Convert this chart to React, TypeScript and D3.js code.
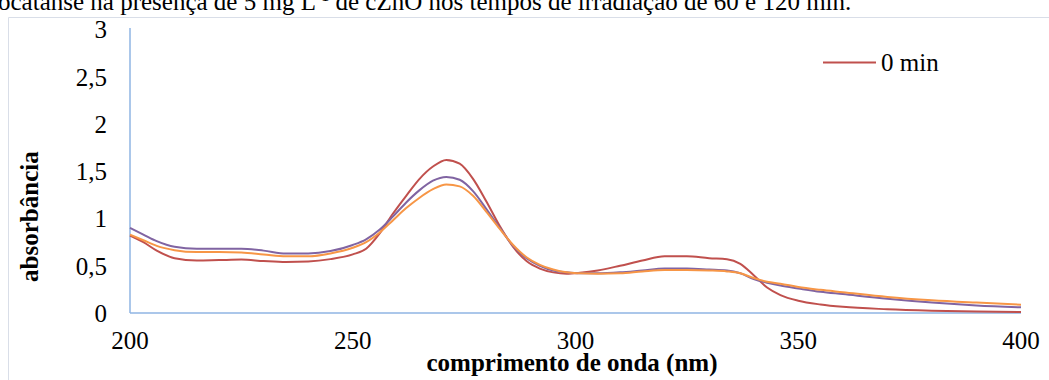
import React from "react";
import * as d3 from "d3";

const wavelengths = [200, 203, 206, 210, 215, 220, 225, 230, 235, 240, 245, 250, 253, 256, 259, 262, 265, 268, 271, 274, 277, 280, 283, 286, 289, 292, 295, 298, 301, 305, 310, 315, 320, 325, 330, 334, 337, 340, 343, 346, 350, 355, 360, 370, 380, 390, 400];

const series0min = [0.82, 0.75, 0.66, 0.58, 0.555, 0.56, 0.565, 0.55, 0.54, 0.545, 0.57, 0.62, 0.68, 0.84, 1.05, 1.24, 1.42, 1.55, 1.62, 1.58, 1.42, 1.18, 0.92, 0.70, 0.55, 0.47, 0.43, 0.415, 0.425, 0.45, 0.50, 0.555, 0.60, 0.60, 0.58, 0.57, 0.52, 0.40, 0.27, 0.19, 0.13, 0.09, 0.065, 0.04, 0.025, 0.015, 0.01];
const series60min = [0.90, 0.83, 0.76, 0.70, 0.68, 0.68, 0.68, 0.66, 0.63, 0.63, 0.655, 0.72, 0.78, 0.88, 1.02, 1.17, 1.30, 1.40, 1.44, 1.41, 1.29, 1.10, 0.90, 0.71, 0.58, 0.50, 0.45, 0.43, 0.42, 0.42, 0.43, 0.45, 0.47, 0.47, 0.46, 0.45, 0.42, 0.36, 0.32, 0.29, 0.26, 0.225, 0.20, 0.15, 0.11, 0.08, 0.06];
const series120min = [0.83, 0.77, 0.71, 0.665, 0.645, 0.645, 0.64, 0.62, 0.60, 0.60, 0.63, 0.69, 0.75, 0.85, 0.98, 1.11, 1.22, 1.31, 1.36, 1.34, 1.24, 1.07, 0.89, 0.72, 0.59, 0.51, 0.46, 0.43, 0.42, 0.415, 0.42, 0.44, 0.455, 0.455, 0.45, 0.44, 0.42, 0.37, 0.33, 0.31, 0.275, 0.245, 0.22, 0.17, 0.135, 0.11, 0.088];

const xTicks = [200, 250, 300, 350, 400];
const yTicks = [0, 0.5, 1, 1.5, 2, 2.5, 3];
const yTickLabels = ["0", "0,5", "1", "1,5", "2", "2,5", "3"];

const seriesList = [
  { name: "0 min", values: series0min, color: "#C0504D" },
  { name: "60 min", values: series60min, color: "#8064A2" },
  { name: "120 min", values: series120min, color: "#F79646" },
];

const caption = "ocatanse na presença de 5 mg L";
const captionRest = " de cZnO nos tempos de irradiação de 60 e 120 min.";

export default function App() {
  const W = 1049;
  const H = 380;
  const x = d3.scaleLinear().domain([200, 400]).range([130, 1021]);
  const y = d3.scaleLinear().domain([0, 3]).range([313, 29.5]);
  const font = "'Liberation Serif', 'Times New Roman', serif";
  const axisColor = "#8FB4E3";
  const fs = 25;

  const line = d3
    .line<number>()
    .x((_, i) => x(wavelengths[i]))
    .y((v) => y(v))
    .curve(d3.curveMonotoneX);

  return (
    <svg
      width={W}
      height={H}
      style={{ position: "absolute", left: 0, top: 0, background: "#fff" }}
      fontFamily={font}
    >
      <rect x={0} y={0} width={W} height={H} fill="#fff" />
      {/* caption, cut at top */}
      <text x={-2} y={10} fontSize={25} fill="#000">
        {caption}
        <tspan fontSize={16} dy={-9}>-1</tspan>
        <tspan dy={9}>{captionRest}</tspan>
      </text>
      {/* chart border */}
      <path d={`M8.5,${H} V17.5 H${W}`} fill="none" stroke="#D9DEE8" strokeWidth={1} />

      {/* axes */}
      <line x1={x(200)} x2={x(200)} y1={y(3) - 1.5} y2={y(0)} stroke={axisColor} strokeWidth={1.5} />
      <line x1={x(200)} x2={x(400)} y1={y(0)} y2={y(0)} stroke={axisColor} strokeWidth={1.5} />

      {yTicks.map((t, i) => (
        <text key={t} x={107} y={y(t)} dy="0.35em" textAnchor="end" fontSize={fs} fill="#000">
          {yTickLabels[i]}
        </text>
      ))}
      {xTicks.map((t) => (
        <text key={t} x={x(t)} y={349} textAnchor="middle" fontSize={fs} fill="#000">
          {t}
        </text>
      ))}

      <text x={572} y={371} textAnchor="middle" fontSize={fs} fontWeight="bold" fill="#000">
        comprimento de onda (nm)
      </text>
      <text
        transform={`translate(38,${y(1.02)}) rotate(-90)`}
        textAnchor="middle"
        fontSize={fs}
        fontWeight="bold"
        fill="#000"
      >
        absorbância
      </text>

      {seriesList.map((s) => (
        <path key={s.name} d={line(s.values) || ""} fill="none" stroke={s.color} strokeWidth={2} />
      ))}

      {/* legend */}
      <line x1={823} x2={876} y1={62.5} y2={62.5} stroke={seriesList[0].color} strokeWidth={2} />
      <text x={881} y={62.5} dy="0.35em" fontSize={fs} fill="#000">
        {seriesList[0].name}
      </text>
    </svg>
  );
}
